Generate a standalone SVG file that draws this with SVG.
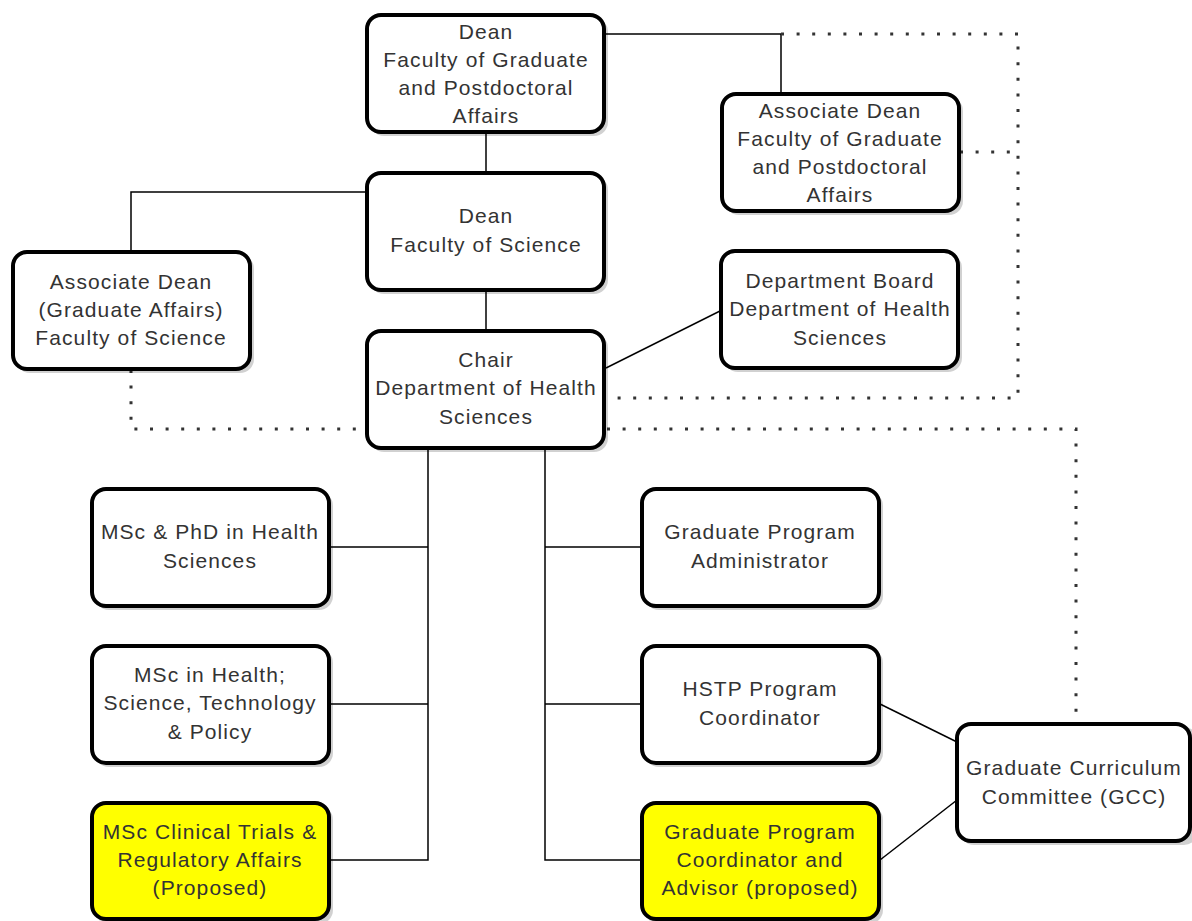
<svg xmlns="http://www.w3.org/2000/svg" width="1192" height="921" viewBox="0 0 1192 921">
<defs>
<style>
.box{fill:#fff;stroke:#000;stroke-width:4}
.yel{fill:#ffff00;stroke:#000;stroke-width:4}
.sh{fill:#000;opacity:0.18}
.t{font-family:"Liberation Sans",Arial,sans-serif;font-size:21px;letter-spacing:1.1px;fill:#333;text-anchor:middle}
.ln{fill:none;stroke:#000;stroke-width:1.5}
.dot{fill:none;stroke:#333;stroke-width:3;stroke-dasharray:3 12.6}
</style>
</defs>
<rect width="1192" height="921" fill="#fff"/>
<g id="connectors">
<path class="ln" d="M486 133V172"/>
<path class="ln" d="M605 34H781V93"/>
<path class="dot" d="M781 34H1018V398H607"/>
<path class="dot" d="M960 152H1018"/>
<path class="ln" d="M367 192H131V252"/>
<path class="dot" d="M131 370V429H367"/>
<path class="ln" d="M486 290V330"/>
<path class="ln" d="M606 368L720 311"/>
<path class="dot" d="M607 429H1076V723"/>
<path class="ln" d="M428 447V860H329M428 547H329M428 704H329"/>
<path class="ln" d="M545 447V860H642M545 547H642M545 704H642"/>
<path class="ln" d="M880 704L957 742"/>
<path class="ln" d="M880 860L957 800"/>
</g>
<g id="n1"><rect class="sh" x="370" y="18" width="238" height="118" rx="14"/><rect class="box" x="367" y="15" width="237" height="117" rx="14"/>
<text class="t" x="486" y="39">Dean</text><text class="t" x="486" y="67">Faculty of Graduate</text><text class="t" x="486" y="95">and Postdoctoral</text><text class="t" x="486" y="123">Affairs</text></g>
<g id="n2"><rect class="sh" x="725" y="97" width="238" height="118" rx="14"/><rect class="box" x="722" y="94" width="237" height="117" rx="14"/>
<text class="t" x="840" y="118">Associate Dean</text><text class="t" x="840" y="146">Faculty of Graduate</text><text class="t" x="840" y="174">and Postdoctoral</text><text class="t" x="840" y="202">Affairs</text></g>
<g id="n3"><rect class="sh" x="370" y="176" width="238" height="118" rx="14"/><rect class="box" x="367" y="173" width="237" height="117" rx="14"/>
<text class="t" x="486" y="223">Dean</text><text class="t" x="486" y="252">Faculty of Science</text></g>
<g id="n4"><rect class="sh" x="16" y="255" width="238" height="118" rx="14"/><rect class="box" x="13" y="252" width="237" height="117" rx="14"/>
<text class="t" x="131" y="289">Associate Dean</text><text class="t" x="131" y="317">(Graduate Affairs)</text><text class="t" x="131" y="345">Faculty of Science</text></g>
<g id="n5"><rect class="sh" x="724" y="254" width="238" height="118" rx="14"/><rect class="box" x="721" y="251" width="237" height="117" rx="14"/>
<text class="t" x="840" y="288">Department Board</text><text class="t" x="840" y="316">Department of Health</text><text class="t" x="840" y="345">Sciences</text></g>
<g id="n6"><rect class="sh" x="370" y="334" width="238" height="118" rx="14"/><rect class="box" x="367" y="331" width="237" height="117" rx="14"/>
<text class="t" x="486" y="367">Chair</text><text class="t" x="486" y="395">Department of Health</text><text class="t" x="486" y="424">Sciences</text></g>
<g id="n7"><rect class="sh" x="95" y="492" width="238" height="118" rx="14"/><rect class="box" x="92" y="489" width="237" height="117" rx="14"/>
<text class="t" x="210" y="539">MSc &amp; PhD in Health</text><text class="t" x="210" y="568">Sciences</text></g>
<g id="n8"><rect class="sh" x="95" y="649" width="238" height="118" rx="14"/><rect class="box" x="92" y="646" width="237" height="117" rx="14"/>
<text class="t" x="210" y="682">MSc in Health;</text><text class="t" x="210" y="710">Science, Technology</text><text class="t" x="210" y="739">&amp; Policy</text></g>
<g id="n9"><rect class="sh" x="95" y="806" width="238" height="118" rx="14"/><rect class="yel" x="92" y="803" width="237" height="116" rx="14"/>
<text class="t" x="210" y="839">MSc Clinical Trials &amp;</text><text class="t" x="210" y="867">Regulatory Affairs</text><text class="t" x="210" y="895">(Proposed)</text></g>
<g id="n10"><rect class="sh" x="645" y="492" width="238" height="118" rx="14"/><rect class="box" x="642" y="489" width="237" height="117" rx="14"/>
<text class="t" x="760" y="539">Graduate Program</text><text class="t" x="760" y="568">Administrator</text></g>
<g id="n11"><rect class="sh" x="645" y="649" width="238" height="118" rx="14"/><rect class="box" x="642" y="646" width="237" height="117" rx="14"/>
<text class="t" x="760" y="696">HSTP Program</text><text class="t" x="760" y="725">Coordinator</text></g>
<g id="n12"><rect class="sh" x="645" y="806" width="238" height="118" rx="14"/><rect class="yel" x="642" y="803" width="237" height="116" rx="14"/>
<text class="t" x="760" y="839">Graduate Program</text><text class="t" x="760" y="867">Coordinator and</text><text class="t" x="760" y="895">Advisor (proposed)</text></g>
<g id="n13"><rect class="sh" x="960" y="727" width="238" height="118" rx="14"/><rect class="box" x="957" y="724" width="233" height="117" rx="14"/>
<text class="t" x="1074" y="775">Graduate Curriculum</text><text class="t" x="1074" y="804">Committee (GCC)</text></g>
</svg>
